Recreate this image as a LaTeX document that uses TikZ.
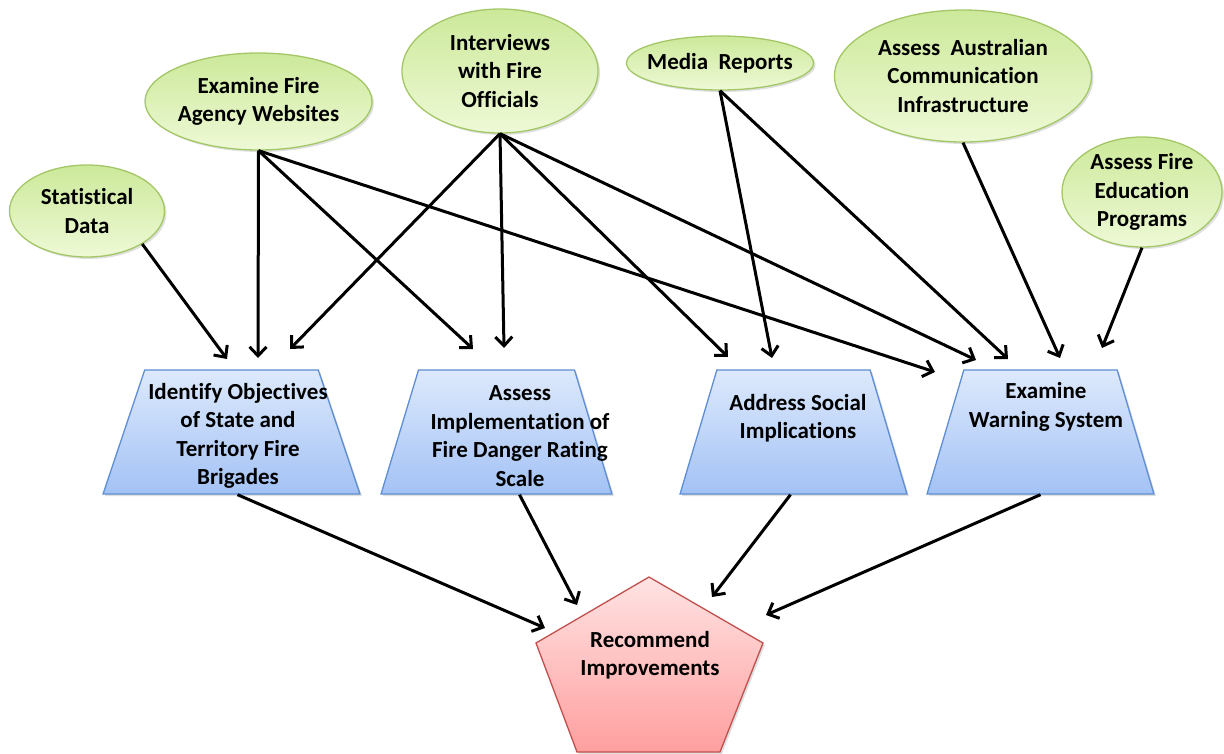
\documentclass[tikz,border=0pt]{standalone}
\usepackage{fontspec}
\setmainfont[Ligatures=NoCommon]{Carlito}
\usetikzlibrary{shapes.geometric,arrows.meta,shadows}
\definecolor{ovaltop}{HTML}{CCE99A}
\definecolor{ovalbot}{HTML}{EEF9D6}
\definecolor{ovalline}{HTML}{A3C766}
\definecolor{traptop}{HTML}{DDE9FC}
\definecolor{trapbot}{HTML}{A3C2F5}
\definecolor{trapline}{HTML}{5E8ED3}
\definecolor{penttop}{HTML}{FFE3E3}
\definecolor{pentbot}{HTML}{FF9F9F}
\definecolor{pentline}{HTML}{C0504D}
\tikzset{oval/.style={ellipse, draw=ovalline, line width=1.3pt, top color=ovaltop, bottom color=ovalbot, inner sep=-3pt, align=center, font=\fontsize{23}{28.5}\selectfont\bfseries, drop shadow={opacity=0.25, shadow xshift=2pt, shadow yshift=-2pt}}}
\tikzset{trap/.style={trapezium, trapezium stretches=true, trapezium angle=76.5, minimum height=124pt, draw=trapline, line width=1.3pt, top color=traptop, bottom color=trapbot, drop shadow={opacity=0.25, shadow xshift=2pt, shadow yshift=-2pt}}}
\tikzset{txt/.style={align=center, inner sep=0pt, font=\fontsize{23}{28.5}\selectfont\bfseries}}
\tikzset{link/.style={line width=3pt, -{Straight Barb[length=9pt,width=17pt]}}}

\begin{document}
\begin{tikzpicture}[x=1pt, y=-1pt]
    \useasboundingbox (0,0) rectangle (1224,753);
    % sources
    \node[oval, minimum width=155pt, minimum height=92pt] (stat) at (87,211) {Statistical\\Data};
    \node[oval, minimum width=227pt, minimum height=97pt] (web) at (258.5,101.5) {Examine Fire\\Agency Websites};
    \node[oval, minimum width=196pt, minimum height=124pt] (intv) at (500,71) {Interviews\\with Fire\\Officials};
    \node[oval, minimum width=187pt, minimum height=54pt, inner xsep=-9pt] (media) at (720,63) {Media~ Reports};
    \node[oval, minimum width=257pt, minimum height=132pt] (infra) at (963,76) {Assess~ Australian\\Communication\\Infrastructure};
    \node[oval, minimum width=160pt, minimum height=110pt] (edu) at (1142,192) {Assess Fire\\Education\\Programs};

    % tasks
    \node[trap, minimum width=257pt] (t1) at (231.5,432) {};
    \node[trap, minimum width=231pt] (t2) at (496.5,432) {};
    \node[trap, minimum width=227pt] (t3) at (793.5,432) {};
    \node[trap, minimum width=227pt] (t4) at (1040.5,432) {};
    \node[txt] (t1txt) at (238,436) {Identify Objectives\\of State and\\Territory Fire\\Brigades};
    \node[txt] (t2txt) at (520,436) {Assess\\Implementation of\\Fire Danger Rating\\Scale};
    \node[txt] (t3txt) at (798,418) {Address Social\\Implications};
    \node[txt] (t4txt) at (1046,407) {Examine\\Warning System};

    % goal
    \draw[draw=pentline, line width=1.3pt, top color=penttop, bottom color=pentbot, drop shadow={opacity=0.25, shadow xshift=2pt, shadow yshift=-2pt}]
        (649,577) -- (763,643) -- (720,752) -- (577,752) -- (536,643) -- cycle;
    \node[txt] (rec) at (650,655) {Recommend\\Improvements};

    % arrow tips
    \coordinate (a1) at (227,359);
    \coordinate (a2) at (258,358);
    \coordinate (a3) at (290,349);
    \coordinate (b1) at (473,349);
    \coordinate (b2) at (504,348);
    \coordinate (c1) at (728,357);
    \coordinate (c2) at (772,358);
    \coordinate (d1) at (935,372);
    \coordinate (d2) at (976,360);
    \coordinate (d3) at (1008,359);
    \coordinate (d4) at (1060,358);
    \coordinate (d5) at (1102,348);
    \coordinate (e1) at (545,628);
    \coordinate (e2) at (577,605);
    \coordinate (e3) at (712,597);
    \coordinate (e4) at (766,615);

    \foreach \s/\t in {stat.south east/a1, web.south/a2, web.south/b1, web.south/d1,
                       intv.south/a3, intv.south/b2, intv.south/c1, intv.south/d2,
                       media.south/c2, media.south/d3, infra.south/d4, edu.south/d5}
        \draw[link] (\s) -- (\t);

    \draw[link] ([xshift=6pt]t1.south) -- (e1);
    \draw[link] ([xshift=23pt]t2.south) -- (e2);
    \draw[link] ([xshift=-3pt]t3.south) -- (e3);
    \draw[link] (t4.south) -- (e4);
\end{tikzpicture}
\end{document}
